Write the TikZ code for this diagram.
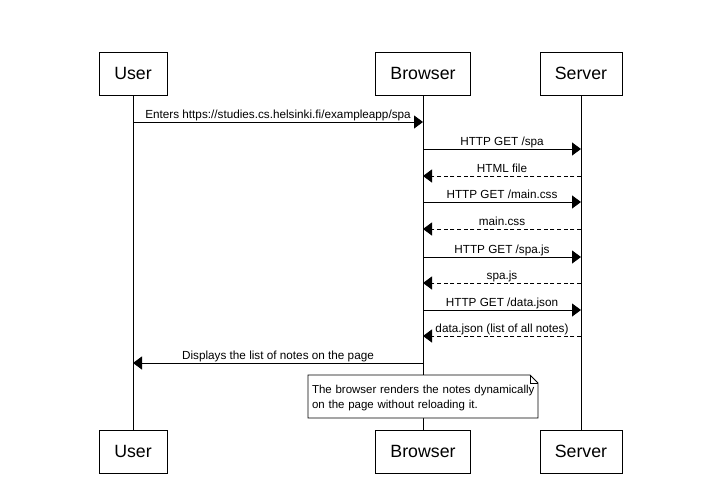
\documentclass[tikz,border=0pt]{standalone}
\usepackage{fontspec}
\setmainfont{Liberation Sans}
\usetikzlibrary{arrows.meta}
\begin{document}
\begin{tikzpicture}[x=0.75pt,y=-0.75pt,
  actor/.style={draw, line width=0.75pt, fill=white, minimum height=32.25pt, inner sep=0pt,
    font=\fontsize{13.3}{16}\selectfont},
  lifeline/.style={line width=0.75pt},
  msg/.style={line width=0.75pt, -{Triangle[length=6.75pt,width=9.75pt]}},
  reply/.style={msg, dash pattern=on 3pt off 2pt},
  lbl/.style={font=\fontsize{8.8}{10}\selectfont, inner sep=0.5pt, text depth=2pt, above},
  notetext/.style={font=\fontsize{8.6}{11.25}\selectfont, text width=168pt, align=left, inner sep=0pt},
  notebox/.style={draw, fill=white, line width=0.6pt}
]
\useasboundingbox (0,0) rectangle (703,486);
% participants
\node[actor, minimum width=51pt] (uT) at (133,73.5) {User};
\node[actor, minimum width=71.25pt] (bT) at (423,73.5) {Browser};
\node[actor, minimum width=61.5pt] (sT) at (581,73.5) {Server};
\node[actor, minimum width=51pt] (uB) at (133,451.5) {User};
\node[actor, minimum width=71.25pt] (bB) at (423,451.5) {Browser};
\node[actor, minimum width=61.5pt] (sB) at (581,451.5) {Server};
% lifelines
\draw[lifeline] (uT) -- (uB);
\draw[lifeline] (bT) -- (bB);
\draw[lifeline] (sT) -- (sB);
% message points
\coordinate (u1) at (133,122); \coordinate (b1) at (423,122);
\coordinate (b2) at (423,149); \coordinate (s2) at (581,149);
\coordinate (b3) at (423,176); \coordinate (s3) at (581,176);
\coordinate (b4) at (423,202); \coordinate (s4) at (581,202);
\coordinate (b5) at (423,229); \coordinate (s5) at (581,229);
\coordinate (b6) at (423,257); \coordinate (s6) at (581,257);
\coordinate (b7) at (423,283); \coordinate (s7) at (581,283);
\coordinate (b8) at (423,310); \coordinate (s8) at (581,310);
\coordinate (b9) at (423,336); \coordinate (s9) at (581,336);
\coordinate (b10) at (423,363); \coordinate (u10) at (133,363);
% messages
\draw[msg] (u1) -- (b1) node[lbl, midway] {Enters https://studies.cs.helsinki.fi/exampleapp/spa};
\draw[msg] (b2) -- (s2) node[lbl, midway] {HTTP GET /spa};
\draw[reply] (s3) -- (b3) node[lbl, midway] {HTML file};
\draw[msg] (b4) -- (s4) node[lbl, midway] {HTTP GET /main.css};
\draw[reply] (s5) -- (b5) node[lbl, midway] {main.css};
\draw[msg] (b6) -- (s6) node[lbl, midway] {HTTP GET /spa.js};
\draw[reply] (s7) -- (b7) node[lbl, midway] {spa.js};
\draw[msg] (b8) -- (s8) node[lbl, midway] {HTTP GET /data.json};
\draw[reply] (s9) -- (b9) node[lbl, midway] {data.json (list of all notes)};
\draw[msg] (b10) -- (u10) node[lbl, midway] {Displays the list of notes on the page};
% note
\draw[notebox] (308,375) -- (530,375) -- (538,383) -- (538,418) -- (308,418) -- cycle;
\draw[line width=0.6pt] (530,375) -- (530,383) -- (538,383);
\node[notetext] (note) at (424,398.5) {The browser renders the notes dynamically\\on the page without reloading it.};
\end{tikzpicture}
\end{document}
